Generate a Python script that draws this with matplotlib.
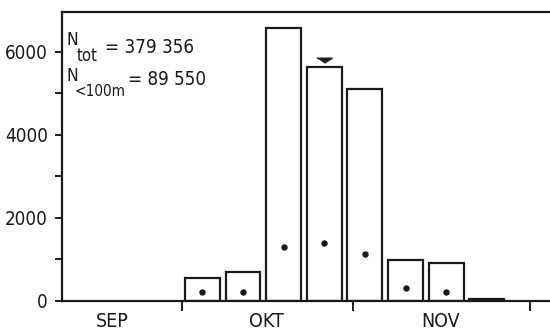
import matplotlib.pyplot as plt
from matplotlib.ticker import FixedLocator, NullFormatter

# weekly counts, weeks starting 1 Oct (day 30 counted from 1 Sep)
week_start = [30, 37, 44, 51, 58, 65, 72, 79]
total = [550, 695, 6590, 5635, 5100, 980, 900, 50]
below_100m = [215, 205, 1305, 1385, 1120, 315, 215, None]

# month axis
month_edges = [30, 59.5, 90]
month_names = ["SEP", "OKT", "NOV"]
month_mid = [18, 44.6, 74.5]

# peak marker (arrow over the 4th week)
peak_week = 51
peak_level = 5810

plt.rcParams['font.family'] = ["DejaVu Sans"]
plt.rcParams['font.stretch'] = 'condensed'

ink = "#1a1a1a"

fig = plt.figure(figsize=(5.5, 3.34), dpi=100)
ax = fig.add_axes([62 / 550, 33.3 / 334, 1 - 62 / 550, 288.7 / 334])

# bars as open outlines
centers = [d + 3.5 for d in week_start]
ax.bar(centers, total, width=6, facecolor="white", edgecolor=ink, linewidth=1.6)

# dots for the <100 m share
dx = [c for c, v in zip(centers, below_100m) if v is not None]
dy = [v for v in below_100m if v is not None]
ax.plot(dx, dy, "o", color=ink, markersize=3.6)

# flat downward arrow above the peak week
ax.plot([peak_week + 3.5], [peak_level], marker=[(-1, 0.3), (1, 0.3), (0, -0.35)],
        color=ink, markersize=11, linestyle="none")

ax.set_xlim(9.3, 93.4)
ax.set_ylim(0, 6965)

# frame: left, bottom and top only
ax.spines["right"].set_visible(False)
for side in ["left", "bottom", "top"]:
    ax.spines[side].set_linewidth(1.6)
    ax.spines[side].set_color(ink)

ax.set_yticks([0, 2000, 4000, 6000])
ax.yaxis.set_minor_locator(FixedLocator([1000, 3000, 5000]))
ax.tick_params(axis="y", which="major", length=5, width=1.4, pad=5,
               labelsize=13.5, colors=ink)
ax.tick_params(axis="y", which="minor", length=5, width=1.4, colors=ink)

ax.set_xticks(month_edges)
ax.xaxis.set_major_formatter(NullFormatter())
ax.set_xticks(month_mid, minor=True)
ax.set_xticklabels(month_names, minor=True)
ax.tick_params(axis="x", which="major", length=7, width=1.4, colors=ink)
ax.tick_params(axis="x", which="minor", length=0, pad=8, labelsize=14, colors=ink)

# the N labels, built piece by piece like the typeset original
def label(x, y, s, size):
    ax.text(x, y, s, transform=ax.transAxes, fontsize=size, color=ink,
            ha="left", va="baseline")

label(0.0102, 0.887, "N", 12.5)
label(0.0307, 0.829, "tot", 12)
label(0.0881, 0.858, "= 379 356", 13.5)

label(0.0102, 0.760, "N", 12.5)
label(0.0266, 0.709, "<100m", 11)
label(0.1352, 0.747, "= 89 550", 13.5)

plt.savefig("out.png", dpi=100)
